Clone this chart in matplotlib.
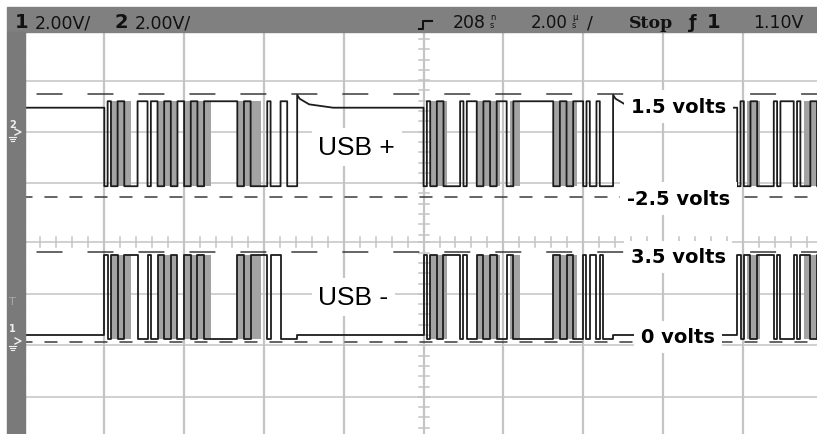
import numpy as np
import matplotlib
matplotlib.use("Agg")
import matplotlib.pyplot as plt
from matplotlib.lines import Line2D
from matplotlib.patches import Rectangle

# ---------------- data ----------------
time_per_div_us = 2.0
volts_per_div = 2.0
bit_us = 1 / 12.0                 # USB full speed, 12 Mbit/s
x_range_us = (-10.0, 9.86)
y_range_div = (-3.722, 4.085)

ch2_ground_div = 2.14             # USB+ trace (channel 2)
ch1_ground_div = -1.93            # USB- trace (channel 1)

usbp_high, usbp_idle, usbp_low = 1.2, 0.95, -2.1
usbm_high, usbm_idle, usbm_low = 3.35, 0.25, 0.1

packet_start_us = [-8.0, 0.0, 7.86]

# black (latest) trace, one char per bit: 1 = high, 0 = low, e = SE0 (low)
usbp_bits = [
    ("01001100" "00" "111011" "001100" "11" "00110011" "11111111"
     "0011000" "00" "1" "000" "11" "eee"),
    ("01001100" "000" "10111" "0011001" "110" "011" "1111111111"
     "0011001" "110" "10010" "eee"),
    ("01001100" "000" "101" "111" "010" "00110"),
]
usbm_bits = [
    ("10110011" "11" "000100" "110011" "00" "11001100" "00000000"
     "1100111" "11" "0" "111" "00" "000"),
    ("10110011" "111" "01000" "1100110" "001" "100" "0000000000"
     "1100110" "001" "01101" "000"),
    ("10110011" "111" "010" "000" "101" "11001"),
]
# '#' = bit times where the persistence (gray) trace shows activity
usbp_gray = [
    ("..######" ".." "......" "######" ".." "########" "........"
     "#######" ".." "." "..." ".." "..."),
    ("..#####." "..." "....." "#######" "..." "###" ".........."
     "#######" "..." "....." "..."),
    ("...####." "..." "..." "..." "..." "#####"),
]
usbm_gray = usbp_gray

# EOP recovery of USB+ after each packet (time after end, volts)
recovery_us = [0.0, 0.06, 0.3, 0.9]
usbp_recovery_v = [1.45, 1.3, 1.08, 0.95]

cursor_ch2_v = [1.5, -2.5]
cursor_ch1_v = [3.5, 0.0]
cursor_long = [True, False]
label_text = ["1.5 volts", "-2.5 volts", "3.5 volts", "0 volts"]
label_baseline_div = [2.53, 0.744, -0.388, -1.942]
label_x_us = 6.38
usb_label_x_us = -2.64
usb_label_text = ["USB +", "USB -"]
usb_label_baseline_div = [1.715, -1.198]

v_grid_us = [-8, -6, -4, -2, 0, 2, 4, 6, 8]
h_grid_div = [3.13, 2.14, 1.15, 0.0, -1.0, -2.0, -3.0]

# ---------------- figure ----------------
W, H = 817, 435
plt.rcParams["lines.scale_dashes"] = False
fig = plt.figure(figsize=(W / 100, H / 100), dpi=100)
fig.patch.set_facecolor("white")


def fx(x):
    return x / W


def fy(y):
    return 1 - y / H


def ftext(x, y, s, **kw):
    kw.setdefault("ha", "left")
    kw.setdefault("va", "baseline")
    fig.text(fx(x), fy(y), s, **kw)


def fline(xs, ys, **kw):
    fig.lines.append(Line2D([fx(v) for v in xs], [fy(v) for v in ys],
                            transform=fig.transFigure, **kw))


# header and left strip
fig.patches.append(Rectangle((fx(7), fy(33)), fx(W) - fx(7), fy(8) - fy(33),
                             transform=fig.transFigure, color="#808080", zorder=0))
fig.patches.append(Rectangle((fx(7), 0), fx(24.5) - fx(7), fy(33),
                             transform=fig.transFigure, color="#7a7a7a", zorder=0))

ax = fig.add_axes([fx(24.5), 0, 1 - fx(24.5), fy(33)])
ax.set_xlim(*x_range_us)
ax.set_ylim(*y_range_div)
ax.set_axis_off()

# grid
grid_c = "#c4c4c4"
for xv in v_grid_us:
    ax.axvline(xv, color=grid_c, lw=1.6, zorder=1)
for yv in h_grid_div:
    ax.axhline(yv, color=grid_c, lw=1.1, zorder=1)
ax.axvline(x_range_us[0], color="#d8d8d8", lw=2.2, dashes=(2, 2), zorder=3, clip_on=False)

# minor ticks on centre lines
tx = np.arange(x_range_us[0], x_range_us[1], time_per_div_us / 5)
for t in tx:
    ax.plot([t, t], [-0.1, 0.1], color=grid_c, lw=1.1, zorder=1)
ty = np.concatenate([np.arange(1.15, y_range_div[1], 0.2),
                     np.arange(1.15, 0.1, -0.2),
                     np.arange(0, y_range_div[0], -0.2)])
for yv in ty:
    ax.plot([-0.125, 0.125], [yv, yv], color=grid_c, lw=1.1, zorder=1)


# traces
def build(bits_list, hi, lo, idle, ground, rec_v=None):
    xs, ys = [x_range_us[0]], [idle]
    for bits, s in zip(bits_list, packet_start_us):
        xs.append(s)
        ys.append(idle)
        for i, b in enumerate(bits):
            lev = hi if b == "1" else lo
            xs += [s + i * bit_us, s + (i + 1) * bit_us]
            ys += [lev, lev]
        end = s + len(bits) * bit_us
        if rec_v is None:
            xs.append(end)
            ys.append(idle)
        else:
            for dt, v in zip(recovery_us, rec_v):
                xs.append(end + dt)
                ys.append(v)
    xs.append(x_range_us[1] + 1)
    ys.append(idle)
    return np.array(xs), ground + np.array(ys) / volts_per_div


def gray_fill(masks, hi, lo, ground):
    for mask, s in zip(masks, packet_start_us):
        i = 0
        while i < len(mask):
            if mask[i] == "#":
                j = i
                while j < len(mask) and mask[j] == "#":
                    j += 1
                ax.fill_between([s + i * bit_us, s + j * bit_us],
                                ground + lo / volts_per_div,
                                ground + hi / volts_per_div,
                                color="#a3a3a3", lw=0, zorder=2)
                i = j
            else:
                i += 1


gray_fill(usbp_gray, usbp_high, usbp_low, ch2_ground_div)
gray_fill(usbm_gray, usbm_high, usbm_low, ch1_ground_div)
x2, y2 = build(usbp_bits, usbp_high, usbp_low, usbp_idle, ch2_ground_div, usbp_recovery_v)
x1, y1 = build(usbm_bits, usbm_high, usbm_low, usbm_idle, ch1_ground_div)
ax.plot(x2, y2, color="#1c1c1c", lw=1.3, zorder=4)
ax.plot(x1, y1, color="#1c1c1c", lw=1.3, zorder=4)

# cursors
long_ls = (28.4, (18.7, 18.0))
short_ls = (4.0, (9.4, 8.6))
for v, lg in zip(cursor_ch2_v, cursor_long):
    ax.axhline(ch2_ground_div + v / volts_per_div, color="#3a3a3a", lw=1.1,
               linestyle=long_ls if lg else short_ls, zorder=3)
for v, lg in zip(cursor_ch1_v, cursor_long):
    ax.axhline(ch1_ground_div + v / volts_per_div, color="#3a3a3a", lw=1.1,
               linestyle=long_ls if lg else short_ls, zorder=3)

# labels
for s, yb in zip(label_text, label_baseline_div):
    ax.text(label_x_us, yb, s, ha="center", va="baseline", fontsize=14,
            fontweight="bold", family="DejaVu Sans", zorder=6,
            bbox=dict(boxstyle="square,pad=0.35", fc="white", ec="none"))
for s, yb in zip(usb_label_text, usb_label_baseline_div):
    ax.text(usb_label_x_us, yb, s, ha="left", va="baseline", fontsize=19,
            family="Liberation Sans", zorder=6,
            bbox=dict(boxstyle="square,pad=0.25", fc="white", ec="none"))

# header text
ink = "#111111"
hdr = dict(fontsize=12.5, color=ink, family="DejaVu Sans")
ftext(15, 28.5, "1", fontsize=14, fontweight="bold", color=ink)
ftext(35, 28.5, "2.00V/", **hdr)
ftext(114, 28.5, "2", fontsize=14, fontweight="bold", color=ink)
ftext(135, 28.5, "2.00V/", **hdr)
ftext(453, 28.5, "208", **hdr)
ftext(490, 30, "n\ns", fontsize=6, color=ink, va="bottom", linespacing=0.85)
ftext(531, 28.5, "2.00", fontsize=12, color=ink, family="DejaVu Sans")
ftext(572, 30, "\u00b5\ns", fontsize=6, color=ink, va="bottom", linespacing=0.85)
ftext(587, 28.5, "/", **hdr)
ftext(629, 28.5, "Stop", fontsize=12.5, fontweight="bold", family="DejaVu Serif", color=ink)
ftext(689, 28.5, "\u0192", fontsize=12.5, fontweight="bold", color=ink)
ftext(707, 28.5, "1", fontsize=14, fontweight="bold", color=ink)
ftext(753, 28.5, "1.10V", **hdr)
# trigger position mark
fline([419, 423, 423, 432], [30, 30, 22, 22], color=ink, lw=1.5)

# left strip markers (channel grounds, trigger level)
mk = "#f0f0f0"
ftext(9, 128, "2", fontsize=7, color=mk, fontweight="bold")
fline([15, 21, 15], [130, 133, 136], color=mk, lw=1.0)
for k, (a, b) in enumerate([(9, 16), (10, 15), (11, 14)]):
    fline([a, b], [137.5 + 2 * k, 137.5 + 2 * k], color=mk, lw=0.8)
ftext(9, 332, "1", fontsize=7, color=mk, fontweight="bold")
fline([15, 21, 15], [339, 342, 345], color=mk, lw=1.0)
for k, (a, b) in enumerate([(9, 16), (10, 15), (11, 14)]):
    fline([a, b], [346.5 + 2 * k, 346.5 + 2 * k], color=mk, lw=0.8)
ftext(9, 305, "T", fontsize=8, color="#a9a9a9")

fig.savefig("out.png", dpi=100, facecolor="white")
